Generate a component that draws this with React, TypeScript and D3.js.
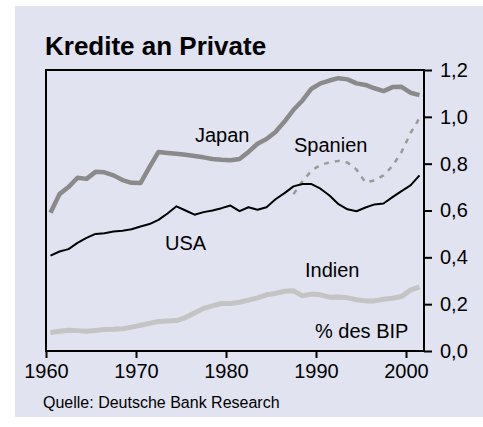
import React, { useRef, useEffect } from 'react';
import * as d3 from 'd3';

const years = d3.range(1960, 2002);
const japan = [0.59, 0.67, 0.70, 0.74, 0.735, 0.765, 0.763, 0.75, 0.73, 0.718, 0.717, 0.785, 0.85, 0.846, 0.842, 0.838, 0.833, 0.827, 0.82, 0.817, 0.815, 0.82, 0.85, 0.885, 0.905, 0.935, 0.98, 1.03, 1.07, 1.12, 1.143, 1.155, 1.165, 1.16, 1.143, 1.136, 1.122, 1.11, 1.127, 1.128, 1.103, 1.093];
const usa = [0.407, 0.425, 0.435, 0.462, 0.483, 0.5, 0.503, 0.51, 0.514, 0.52, 0.532, 0.542, 0.56, 0.587, 0.618, 0.6, 0.582, 0.593, 0.6, 0.61, 0.621, 0.597, 0.614, 0.603, 0.614, 0.648, 0.674, 0.703, 0.713, 0.713, 0.693, 0.664, 0.627, 0.605, 0.597, 0.613, 0.626, 0.63, 0.657, 0.683, 0.707, 0.75];
const indien = [0.079, 0.084, 0.089, 0.087, 0.084, 0.088, 0.092, 0.093, 0.095, 0.102, 0.11, 0.118, 0.126, 0.128, 0.13, 0.143, 0.162, 0.182, 0.193, 0.203, 0.203, 0.208, 0.217, 0.227, 0.24, 0.246, 0.255, 0.257, 0.236, 0.243, 0.24, 0.23, 0.231, 0.227, 0.219, 0.214, 0.214, 0.221, 0.225, 0.233, 0.26, 0.274];
const spanienYears = d3.range(1987, 2002);
const spanien = [0.67, 0.725, 0.77, 0.795, 0.805, 0.812, 0.805, 0.775, 0.72, 0.728, 0.75, 0.79, 0.85, 0.93, 0.995];
const xTicks = [1960, 1970, 1980, 1990, 2000];
const yTicks = [0, 0.2, 0.4, 0.6, 0.8, 1.0, 1.2];

const App = () => {
  const ref = useRef(null);
  const width = 483;
  const height = 427;
  const margin = { top: 70, bottom: 76, left: 46, right: 59 };

  useEffect(() => {
    const svg = d3.select(ref.current);
    svg.selectAll('*').remove();
    const font = 'Arial, "Liberation Sans", sans-serif';

    const x = d3.scaleLinear().domain([1960, 2002]).range([margin.left, width - margin.right]);
    const y = d3.scaleLinear().domain([0, 1.2]).range([height - margin.bottom, margin.top]);

    // background panel
    svg.append('rect')
      .attr('x', 15).attr('y', 6)
      .attr('width', width - 15).attr('height', 411)
      .attr('fill', '#e1e3f0');

    svg.append('text')
      .attr('x', 45).attr('y', 55)
      .attr('font-family', font).attr('font-size', 26).attr('font-weight', 'bold')
      .text('Kredite an Private');

    const line = d3.line<[number, number]>()
      .x(d => x(d[0] + 0.5))
      .y(d => y(d[1]));

    const series = [
      { values: indien, yrs: years, color: '#c4c4c4', w: 5, dash: null },
      { values: japan, yrs: years, color: '#8a8a8a', w: 4.5, dash: null },
      { values: spanien, yrs: spanienYears, color: '#9a9a9a', w: 2.5, dash: '5,6' },
      { values: usa, yrs: years, color: '#000', w: 2, dash: null },
    ];
    series.forEach(s => {
      svg.append('path')
        .datum(s.values.map((v, i) => [s.yrs[i], v] as [number, number]))
        .attr('d', line)
        .attr('fill', 'none')
        .attr('stroke', s.color)
        .attr('stroke-width', s.w)
        .attr('stroke-dasharray', s.dash)
        .attr('stroke-linejoin', 'round');
    });

    // frame
    svg.append('rect')
      .attr('x', x(1960)).attr('y', y(1.2))
      .attr('width', x(2002) - x(1960)).attr('height', y(0) - y(1.2))
      .attr('fill', 'none').attr('stroke', '#000').attr('stroke-width', 2);

    // bottom axis
    const xAxis = svg.append('g')
      .attr('transform', `translate(0,${y(0)})`)
      .call(d3.axisBottom(x).tickValues(xTicks).tickFormat(d3.format('d')).tickSize(7).tickPadding(6));
    xAxis.select('.domain').remove();
    xAxis.selectAll('line').attr('stroke-width', 2);
    xAxis.selectAll('text').attr('font-family', font).attr('font-size', 20).attr('fill', '#000');

    // right axis
    const fmt = (d: number) => d3.format('.1f')(d).replace('.', ',');
    const yAxis = svg.append('g')
      .attr('transform', `translate(${x(2002)},0)`)
      .call(d3.axisRight(y).tickValues(yTicks).tickFormat(fmt).tickSize(8).tickPadding(8));
    yAxis.select('.domain').remove();
    yAxis.selectAll('line').attr('stroke-width', 2);
    yAxis.selectAll('text').attr('font-family', font).attr('font-size', 20).attr('fill', '#000');

    const labels = [
      { t: 'Japan', x: 195, y: 142 },
      { t: 'Spanien', x: 294, y: 152 },
      { t: 'USA', x: 165, y: 250 },
      { t: 'Indien', x: 305, y: 277 },
      { t: '% des BIP', x: 315, y: 338 },
    ];
    svg.selectAll('text.lbl')
      .data(labels)
      .join('text')
      .attr('class', 'lbl')
      .attr('x', d => d.x).attr('y', d => d.y)
      .attr('font-family', font).attr('font-size', 20)
      .text(d => d.t);

    svg.append('text')
      .attr('x', 43).attr('y', 408)
      .attr('font-family', font).attr('font-size', 16)
      .text('Quelle: Deutsche Bank Research');
  }, []);

  return (
    <svg ref={ref} width={width} height={height} style={{ position: 'absolute', left: 0, top: 0 }}></svg>
  );
};

export default App;
